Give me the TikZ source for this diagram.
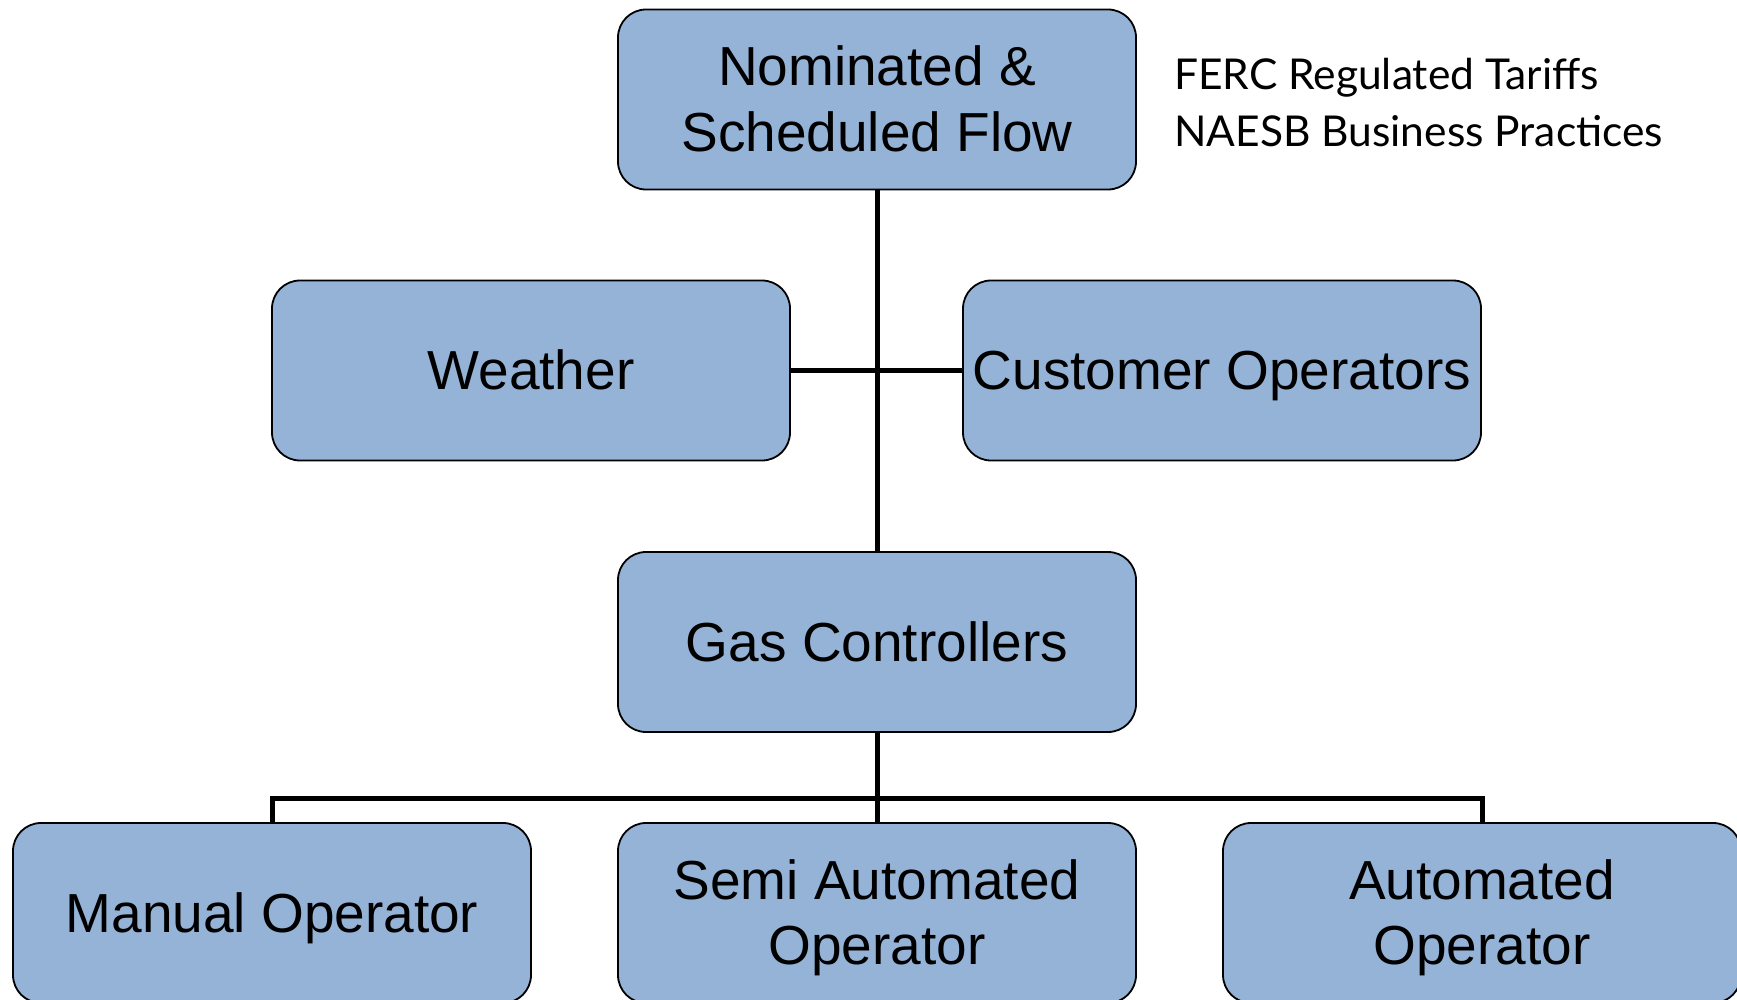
\documentclass[tikz,border=0pt]{standalone}
\usepackage{fontspec}
\setmainfont{Liberation Sans}
\newfontfamily\notefont{Lato}
\definecolor{boxfill}{HTML}{95B3D7}
\newcommand\lnstrut{\rule[-11.7pt]{0pt}{61.7pt}}
\newcommand\notestrut{\rule{0pt}{32pt}}
\tikzset{
  orgbox/.style={draw=black, fill=boxfill, line width=1.8pt, rounded corners=28pt,
    minimum width=518pt, minimum height=180pt, inner sep=0pt, align=center,
    font=\fontsize{55}{65.5}\selectfont},
  link/.style={draw=black, line width=5pt},
  note/.style={inner sep=0pt, align=left, font=\notefont\fontsize{42.5}{57}\selectfont}
}
\begin{document}
\begin{tikzpicture}[x=1pt,y=-1pt]
\path[use as bounding box] (0,0) rectangle (1737,1000);
\clip (0,0) rectangle (1737,1000);
\node[orgbox] (top) at (877,99.5) {\lnstrut Nominated \&\\\lnstrut Scheduled Flow};
\node[orgbox] (weather) at (531,370.5) {\lnstrut Weather};
\node[orgbox] (customer) at (1222,370.5) {\lnstrut Customer Operators};
\node[orgbox] (gas) at (877,642) {\lnstrut Gas Controllers};
\node[orgbox] (manual) at (272,913) {\lnstrut Manual Operator};
\node[orgbox] (semi) at (877,913) {\lnstrut Semi Automated\\\lnstrut Operator};
\node[orgbox] (auto) at (1482,913) {\lnstrut Automated\\\lnstrut Operator};
\node[note, anchor=north west] (rules) at (1174,57) {\notestrut FERC Regulated Tariffs\\NAESB Business Practices};
\coordinate (bus) at (877,798);
\draw[link] (top.south) -- (gas.north);
\draw[link] (weather.east) -- (customer.west);
\draw[link] (gas.south) -- (bus);
\draw[link] (manual.north) |- (bus) -| (auto.north);
\draw[link] (bus) -- (semi.north);
\end{tikzpicture}
\end{document}
